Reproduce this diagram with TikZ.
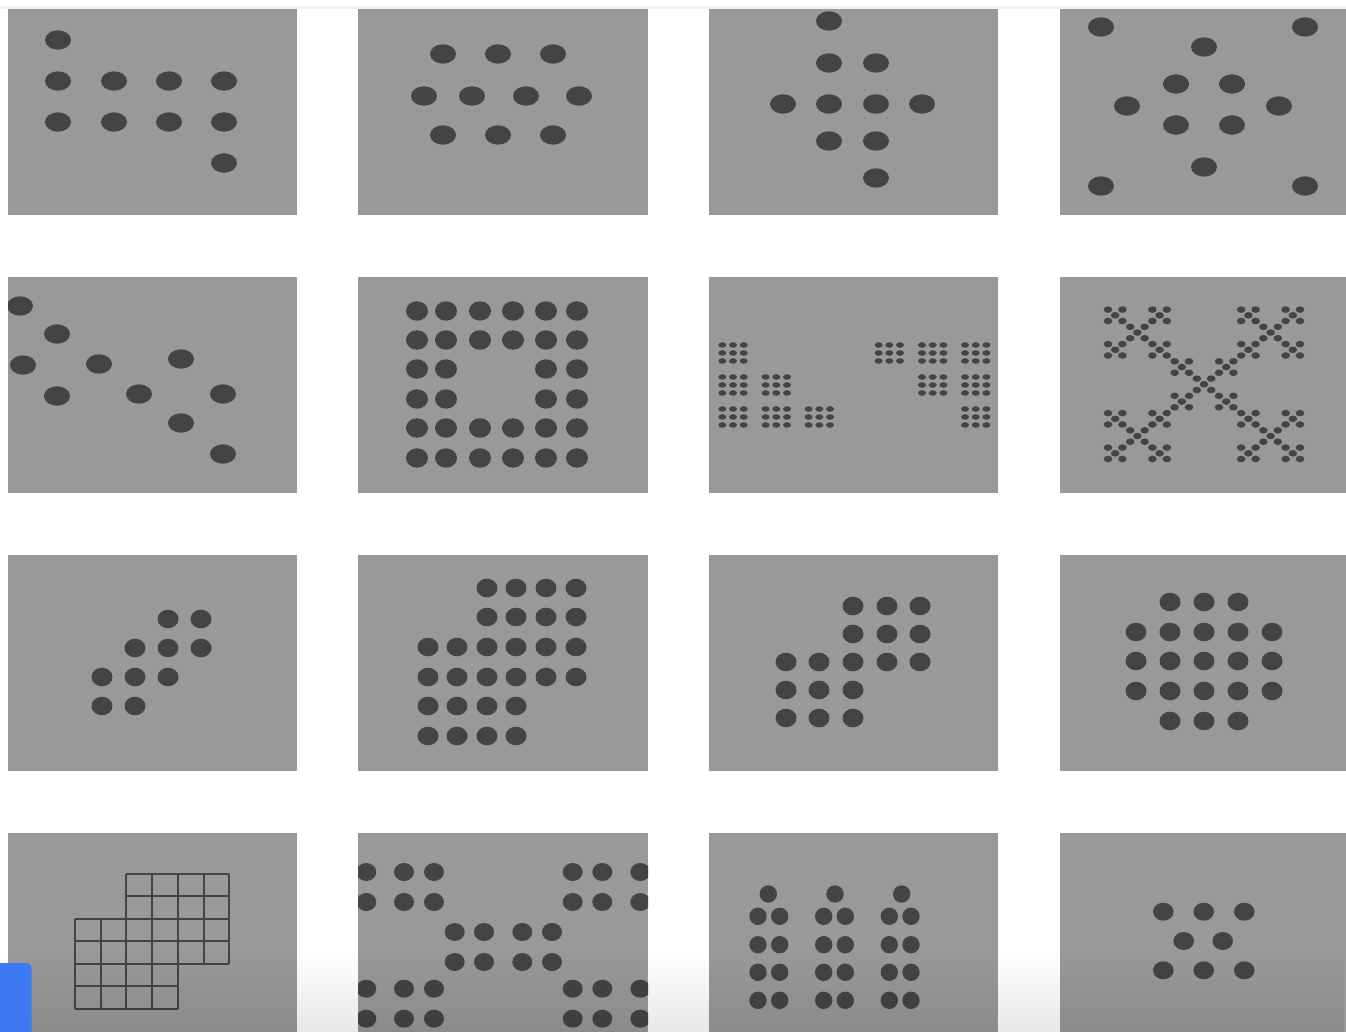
\documentclass[tikz,border=0pt]{standalone}
\usetikzlibrary{fadings}
\definecolor{panelgray}{HTML}{999999}
\definecolor{dotgray}{HTML}{444444}
\definecolor{btnblue}{HTML}{3D79F2}
\definecolor{topline}{HTML}{F2F2F2}
\tikzfading[name=fadedown, top color=transparent!100, bottom color=transparent!0]
\tikzset{
  panel/.style={fill=panelgray},
  dotfill/.style={fill=dotgray},
  gridline/.style={draw=dotgray, line width=2pt},
}
\newcommand\pnl[4]{\fill[panel] (#1,#2) rectangle (#3,#4);}
\begin{document}
\begin{tikzpicture}[x=1pt,y=-1pt]
\useasboundingbox (0,0) rectangle (1346,1032);
\fill[white] (0,0) rectangle (1346,1032);
\fill[topline] (0,6) rectangle (1346,9.5);
% ---------------- Row 1 ----------------
\begin{scope}
\clip (8,9.5) rectangle (297,215);
\pnl{8}{9.5}{297}{215}
\foreach \x/\y in {58/40, 58/81,114/81,169/81,224/81, 58/122,114/122,169/122,224/122, 224/163}
  \fill[dotfill] (\x,\y) ellipse [x radius=13pt, y radius=9.7pt];
\end{scope}
\begin{scope}
\clip (358,9.5) rectangle (648,215);
\pnl{358}{9.5}{648}{215}
\foreach \x/\y in {443/54,498/54,553/54, 424/96,472/96,526/96,579/96, 443/135,498/135,553/135}
  \fill[dotfill] (\x,\y) ellipse [x radius=13pt, y radius=9.7pt];
\end{scope}
\begin{scope}
\clip (709,9.5) rectangle (998,215);
\pnl{709}{9.5}{998}{215}
\foreach \x/\y in {829/21, 829/63,876/63, 783/104,829/104,876/104,922/104, 829/141,876/141, 876/178}
  \fill[dotfill] (\x,\y) ellipse [x radius=13pt, y radius=9.7pt];
\end{scope}
\begin{scope}
\clip (1060,9.5) rectangle (1346,215);
\pnl{1060}{9.5}{1346}{215}
\foreach \x/\y in {1101/27,1305/27, 1204/47, 1176/84,1232/84, 1127/106,1279/106, 1176/125,1232/125, 1204/167, 1101/186,1305/186}
  \fill[dotfill] (\x,\y) ellipse [x radius=13pt, y radius=9.7pt];
\end{scope}
% ---------------- Row 2 ----------------
\begin{scope}
\clip (8,277) rectangle (297,493);
\pnl{8}{277}{297}{493}
\foreach \x/\y in {20/306, 57/334, 23/365, 99/364, 181/359, 57/396, 139/394, 223/394, 181/423, 223/454}
  \fill[dotfill] (\x,\y) ellipse [x radius=13pt, y radius=9.7pt];
\end{scope}
\begin{scope}
\clip (358,277) rectangle (648,493);
\pnl{358}{277}{648}{493}
\foreach \y in {311,340,428,458}
  \foreach \x in {417,446,480,513,546,577}
    \fill[dotfill] (\x,\y) ellipse [x radius=11pt, y radius=9.7pt];
\foreach \y in {369,399}
  \foreach \x in {417,446,546,577}
    \fill[dotfill] (\x,\y) ellipse [x radius=11pt, y radius=9.7pt];
\end{scope}
\begin{scope}
\clip (709,277) rectangle (998,493);
\pnl{709}{277}{998}{493}
\foreach \gx/\gy in {733/353, 889.3/353, 932.7/353, 975.7/353,
                     733/385, 776.3/385, 932.7/385, 975.7/385,
                     733/417, 776.3/417, 819.3/417, 975.7/417}
  \foreach \i in {-1,0,1}
    \foreach \j in {-1,0,1}
      \fill[dotfill] ({\gx+\i*10.7},{\gy+\j*8}) ellipse [x radius=4pt, y radius=2.8pt];
\end{scope}
\begin{scope}
\clip (1060,277) rectangle (1346,493);
\pnl{1060}{277}{1346}{493}
\foreach \a/\b in {0/0,1/1,1/-1,-1/1,-1/-1}
  \foreach \c/\d in {0/0,1/1,1/-1,-1/1,-1/-1}
    \foreach \e/\f in {0/0,1/1,1/-1,-1/1,-1/-1}
      \fill[dotfill] ({1204+\a*66.6+\c*22.2+\e*7.2},{384.3+\b*51.75+\d*17.25+\f*5.7}) ellipse [x radius=4.3pt, y radius=3.3pt];
\end{scope}
% ---------------- Row 3 ----------------
\begin{scope}
\clip (8,555) rectangle (297,771);
\pnl{8}{555}{297}{771}
\foreach \x/\y in {168/619,201/619, 135/648,168/648,201/648, 102/677,135/677,168/677, 102/706,135/706}
  \fill[dotfill] (\x,\y) ellipse [x radius=10.5pt, y radius=9.3pt];
\end{scope}
\begin{scope}
\clip (358,555) rectangle (648,771);
\pnl{358}{555}{648}{771}
\foreach \y in {588,617}
  \foreach \x in {487,516,546,576}
    \fill[dotfill] (\x,\y) ellipse [x radius=10.5pt, y radius=9.3pt];
\foreach \y in {647,677}
  \foreach \x in {428,457,487,516,546,576}
    \fill[dotfill] (\x,\y) ellipse [x radius=10.5pt, y radius=9.3pt];
\foreach \y in {706,736}
  \foreach \x in {428,457,487,516}
    \fill[dotfill] (\x,\y) ellipse [x radius=10.5pt, y radius=9.3pt];
\end{scope}
\begin{scope}
\clip (709,555) rectangle (998,771);
\pnl{709}{555}{998}{771}
\foreach \x/\y in {853/606,887/606,920/606, 853/634,887/634,920/634,
                   786/662,819/662,853/662,887/662,920/662,
                   786/690,819/690,853/690, 786/718,819/718,853/718}
  \fill[dotfill] (\x,\y) ellipse [x radius=10.5pt, y radius=9.3pt];
\end{scope}
\begin{scope}
\clip (1060,555) rectangle (1346,771);
\pnl{1060}{555}{1346}{771}
\foreach \x in {1170,1204,1238}
  \foreach \y in {602,721}
    \fill[dotfill] (\x,\y) ellipse [x radius=10.5pt, y radius=9.3pt];
\foreach \x in {1136,1170,1204,1238,1272}
  \foreach \y in {632,661,691}
    \fill[dotfill] (\x,\y) ellipse [x radius=10.5pt, y radius=9.3pt];
\end{scope}
% ---------------- Row 4 ----------------
\begin{scope}
\clip (8,833) rectangle (297,1032);
\pnl{8}{833}{297}{1032}
% upper-right block of cells
\foreach \x in {126.3,152.3,178,203.7,229}
  \draw[gridline] (\x,874.3) -- (\x,963.7);
\foreach \y in {874.3,896.3,919,941.3,963.7}
  \draw[gridline] (126.3,\y) -- (229,\y);
% lower-left block of cells
\foreach \x in {75.3,100.7,126.3,152.3,178}
  \draw[gridline] (\x,919) -- (\x,1008.7);
\foreach \y in {919,941.3,963.7,986.3,1008.7}
  \draw[gridline] (75.3,\y) -- (178,\y);
\end{scope}
\begin{scope}
\clip (358,833) rectangle (648,1032);
\pnl{358}{833}{648}{1032}
\foreach \x in {366.3,404,434,572.7,602.3,640.3}
  \foreach \y in {872,902,988.7,1018.7}
    \fill[dotfill] (\x,\y) ellipse [x radius=10pt, y radius=9pt];
\foreach \x in {454.7,484,522.3,552}
  \foreach \y in {932,962}
    \fill[dotfill] (\x,\y) ellipse [x radius=10pt, y radius=9pt];
\end{scope}
\begin{scope}
\clip (709,833) rectangle (998,1032);
\pnl{709}{833}{998}{1032}
\foreach \x in {768.3,835,901.7}
  \fill[dotfill] (\x,894) ellipse [x radius=8.7pt, y radius=8.7pt];
\foreach \x in {758,779.7,823.7,845.3,889.3,911}
  \foreach \y in {916.3,944.7,972.3,1000.3}
    \fill[dotfill] (\x,\y) ellipse [x radius=8.7pt, y radius=8.7pt];
\end{scope}
\begin{scope}
\clip (1060,833) rectangle (1346,1032);
\pnl{1060}{833}{1346}{1032}
\foreach \x/\y in {1163.3/911.7,1203.7/911.7,1244.3/911.7, 1183.7/941,1222.7/941, 1163.3/970.3,1203.7/970.3,1244.3/970.3}
  \fill[dotfill] (\x,\y) ellipse [x radius=10.3pt, y radius=9pt];
\end{scope}
% bottom shadow
\fill[black, opacity=0.09, path fading=fadedown] (0,950) rectangle (1346,1032);
% blue button
\fill[btnblue, rounded corners=6pt] (-10,963) rectangle (31.7,1045);
\end{tikzpicture}
\end{document}
